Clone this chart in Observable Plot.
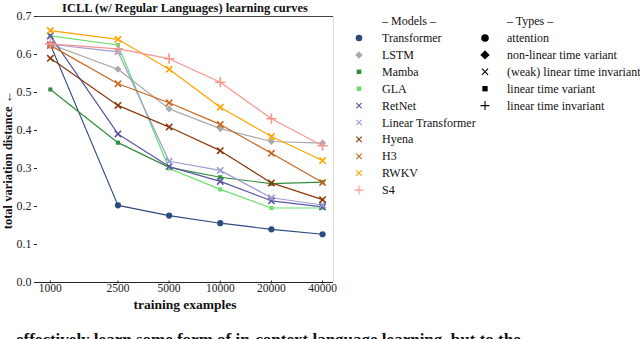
<!DOCTYPE html>
<html>
<head>
<meta charset="utf-8">
<script src="https://cdn.jsdelivr.net/npm/d3@7"></script>
<script src="https://cdn.jsdelivr.net/npm/@observablehq/plot@0.6"></script>
<style>
  html, body { margin: 0; padding: 0; background: #fff; overflow: hidden; }
  #chart { position: relative; width: 640px; height: 339px; }
  #chart svg, #chart svg text { font-family: "Liberation Serif", "DejaVu Serif", serif !important; }
</style>
</head>
<body>
<div id="chart"></div>
<script>
// ---- data ----
const trainingExamples = [1000, 2500, 5000, 10000, 20000, 40000];
const models = ["Transformer", "LSTM", "Mamba", "GLA", "RetNet", "Linear Transformer", "Hyena", "H3", "RWKV", "S4"];
const transformer       = [0.626, 0.203, 0.176, 0.156, 0.140, 0.127];
const lstm              = [0.627, 0.561, 0.457, 0.405, 0.371, 0.367];
const mamba             = [0.508, 0.368, 0.303, 0.277, 0.260, 0.264];
const gla               = [0.649, 0.625, 0.300, 0.245, 0.196, 0.196];
const retnet            = [0.649, 0.391, 0.305, 0.266, 0.215, 0.199];
const linearTransformer = [0.627, 0.607, 0.319, 0.295, 0.223, 0.204];
const hyena             = [0.590, 0.466, 0.409, 0.347, 0.262, 0.218];
const h3                = [0.624, 0.523, 0.473, 0.416, 0.340, 0.263];
const rwkv              = [0.663, 0.640, 0.561, 0.461, 0.384, 0.321];
const s4                = [0.628, 0.615, 0.589, 0.527, 0.431, 0.360];
const seriesValues = [transformer, lstm, mamba, gla, retnet, linearTransformer, hyena, h3, rwkv, s4];
const modelTypes = ["attention", "non-linear time variant", "linear time variant", "linear time variant",
  "(weak) linear time invariant", "(weak) linear time invariant", "(weak) linear time invariant",
  "(weak) linear time invariant", "(weak) linear time invariant", "linear time invariant"];
const typeNames = ["attention", "non-linear time variant", "(weak) linear time invariant", "linear time variant", "linear time invariant"];
const xTickLabels = [1000, 2500, 5000, 10000, 20000, 40000];
const yTickLabels = [0, 0.1, 0.2, 0.3, 0.4, 0.5, 0.6, 0.7];
const titleText = "ICLL (w/ Regular Languages) learning curves";
const xLabel = "training examples";
const yLabel = "total variation distance \u2190";
const captionText = "effectively learn some form of in-context language learning, but to the";

// ---- styles ----
const serif = "Liberation Serif";
const colors = ["#2d4a7e", "#aaaaaa", "#2f8e3b", "#66e06a", "#5b56a3", "#9f9bd2", "#8c3a0c", "#c9661b", "#ffa400", "#f7958e"];
const typeSymbols = {
  "attention": "circle",
  "non-linear time variant": "diamond2",
  "(weak) linear time invariant": "times",
  "linear time variant": "square2",
  "linear time invariant": "plus"
};
const filledTypes = new Set(["attention", "non-linear time variant", "linear time variant"]);
const markerR = {"circle": 3.1, "diamond2": 3.2, "square2": 2.6, "times": 3.0, "plus": 3.4};
const legendR = {"circle": 3.3, "diamond2": 3.4, "square2": 2.9, "times": 2.6, "plus": 2.9};
const typeLegendR = {"circle": 3.8, "diamond2": 4.2, "square2": 3.4, "times": 2.9, "plus": 3.0};

const rows = [];
models.forEach((m, i) => {
  trainingExamples.forEach((n, j) => {
    rows.push({model: m, n, v: seriesValues[i][j], type: modelTypes[i], sym: typeSymbols[modelTypes[i]]});
  });
});

const symNames = Object.keys(markerR);
const dotMarks = [];
symNames.forEach(s => {
  const data = rows.filter(d => d.sym === s);
  if (!data.length) return;
  const filled = filledTypes.has(data[0].type);
  dotMarks.push(Plot.dot(data, {
    x: "n", y: "v", symbol: "sym", r: markerR[s],
    fill: filled ? "model" : "none",
    stroke: filled ? "none" : "model",
    strokeWidth: filled ? 0 : 1.6
  }));
});

const svg = Plot.plot({
  width: 640,
  height: 339,
  marginLeft: 37,
  marginRight: 307,
  marginTop: 16,
  marginBottom: 57,
  style: {fontFamily: serif, fontSize: "12px", background: "#fff", color: "#222"},
  x: {type: "log", domain: [840, 46400], label: null},
  y: {domain: [0, 0.7], label: null},
  color: {domain: models, range: colors},
  symbol: {type: "identity"},
  marks: [
    Plot.axisX({ticks: xTickLabels, tickFormat: d => String(d), tickSize: 3, tickPadding: 0, dy: -1.5, label: null, fontSize: 11.5, fontFamily: serif}),
    Plot.axisY({ticks: yTickLabels, tickFormat: d3.format(".1f"), tickSize: 3, tickPadding: 3, label: null, fontSize: 12, fontFamily: serif}),
    Plot.ruleY([0], {stroke: "#222", strokeWidth: 1}),
    Plot.ruleY([0.7], {stroke: "#444", strokeWidth: 1}),
    Plot.ruleX([46400], {stroke: "#ddd", strokeWidth: 1}),
    Plot.line(rows, {x: "n", y: "v", z: "model", stroke: "model", strokeWidth: 1.2, sort: {z: "color", reverse: true}}),
    ...dotMarks
  ]
});

const root = d3.select(svg);
// title
root.append("text").attr("x", 185).attr("y", 11.5).attr("text-anchor", "middle")
  .attr("font-family", serif).attr("font-weight", "bold").attr("font-size", 12.5).attr("fill", "#111").text(titleText);
// x label
root.append("text").attr("x", 185).attr("y", 309).attr("text-anchor", "middle")
  .attr("font-family", serif).attr("font-weight", "bold").attr("font-size", 13.5).attr("fill", "#111").text(xLabel);
// y label
root.append("text").attr("transform", "translate(12,160) rotate(-90)").attr("text-anchor", "middle")
  .attr("font-family", serif).attr("font-weight", "bold").attr("font-size", 12.5).attr("fill", "#111").text(yLabel);
// caption (cut off at the bottom edge, as in the source page)
root.append("text").attr("x", 16).attr("y", 345).attr("text-anchor", "start")
  .attr("font-family", serif).attr("font-weight", "bold").attr("font-size", 17).attr("fill", "#111").text(captionText);

// legends
const d3Sym = {"circle": d3.symbolCircle, "diamond2": d3.symbolDiamond2, "square2": d3.symbolSquare2, "times": d3.symbolTimes, "plus": d3.symbolPlus};
const leg = root.append("g").attr("font-family", serif).attr("font-size", 12).attr("fill", "#111").attr("text-anchor", "start");
const rowY = i => 38 + i * 16.9;
leg.append("text").attr("x", 382).attr("y", 21 + 4).attr("text-anchor", "start").text("\u2013 Models \u2013");
models.forEach((m, i) => {
  const t = modelTypes[i], s = typeSymbols[t];
  const filled = filledTypes.has(t);
  const r = legendR[s];
  leg.append("path").attr("transform", `translate(359,${rowY(i)})`)
    .attr("d", d3.symbol(d3Sym[s], Math.PI * r * r)())
    .attr("fill", filled ? colors[i] : "none").attr("stroke", filled ? "none" : colors[i]).attr("stroke-width", filled ? 0 : 1.1);
  leg.append("text").attr("x", 382).attr("y", rowY(i) + 4).attr("text-anchor", "start").text(m);
});
leg.append("text").attr("x", 507).attr("y", 21 + 4).attr("text-anchor", "start").text("\u2013 Types \u2013");
typeNames.forEach((t, i) => {
  const s = typeSymbols[t];
  const filled = filledTypes.has(t);
  const r = typeLegendR[s];
  leg.append("path").attr("transform", `translate(485,${rowY(i)})`)
    .attr("d", d3.symbol(d3Sym[s], Math.PI * r * r)())
    .attr("fill", filled ? "#000" : "none").attr("stroke", filled ? "none" : "#000").attr("stroke-width", filled ? 0 : 1.1);
  leg.append("text").attr("x", 507).attr("y", rowY(i) + 4).attr("text-anchor", "start").text(t);
});

document.getElementById("chart").appendChild(svg);
</script>
</body>
</html>
